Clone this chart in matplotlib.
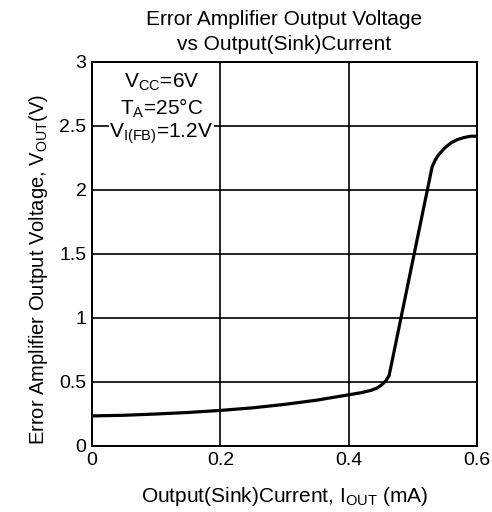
import matplotlib
matplotlib.use("Agg")
import matplotlib.pyplot as plt

plt.rcParams['font.family'] = ['Liberation Sans', 'DejaVu Sans']
plt.rcParams['mathtext.fontset'] = 'custom'
plt.rcParams['mathtext.rm'] = 'Liberation Sans'

# sink current (mA) vs error amp output voltage (V)
current_ma = [0, 0.05, 0.1, 0.15, 0.2, 0.25, 0.3, 0.35, 0.4, 0.42, 0.435,
              0.445, 0.452, 0.458, 0.463, 0.53, 0.535, 0.54, 0.55, 0.56,
              0.57, 0.58, 0.59, 0.6]
vout = [0.235, 0.24, 0.25, 0.262, 0.278, 0.298, 0.325, 0.358, 0.40, 0.417, 0.435,
        0.455, 0.48, 0.51, 0.55, 2.18, 2.235, 2.275, 2.33, 2.37,
        2.395, 2.41, 2.42, 2.42]

xticks = [0, 0.2, 0.4, 0.6]
xticklabels = ['0', '0.2', '0.4', '0.6']
yticks = [0, 0.5, 1, 1.5, 2, 2.5, 3]
yticklabels = ['0', '0.5', '1', '1.5', '2', '2.5', '3']

fig = plt.figure(figsize=(4.92, 5.12), dpi=100)
ax = fig.add_axes([92 / 492, 66 / 512, 385 / 492, 384 / 512])

ax.plot(current_ma, vout, color='black', lw=2.3, solid_capstyle='butt',
        solid_joinstyle='round', zorder=3, clip_on=False)

ax.set_xlim(0, 0.6)
ax.set_ylim(0, 3)
ax.set_xticks(xticks)
ax.set_xticklabels(xticklabels)
ax.set_yticks(yticks)
ax.set_yticklabels(yticklabels)
ax.tick_params(length=0, labelsize=14, pad=4, colors='black')
ax.grid(True, color='black', lw=1.2)
for s in ax.spines.values():
    s.set_linewidth(1.4)

ax.set_title('Error Amplifier Output Voltage\nvs Output(Sink)Current',
             fontsize=15, linespacing=1.35, pad=9)
ax.set_xlabel(r'Output(Sink)Current, I$_{\mathregular{OUT}}$ (mA)',
              fontsize=15, labelpad=12)
ax.set_ylabel(r'Error Amplifier Output Voltage, V$_{\mathregular{OUT}}$(V)',
              fontsize=14.5, labelpad=4)
ax.yaxis.set_label_coords(-0.11, 0.46)

box = dict(facecolor='white', edgecolor='none', pad=0.3)
ax.text(0.108, 2.84, r'V$_{\mathregular{CC}}$=6V', ha='center', va='center',
        fontsize=15, bbox=box, zorder=4)
ax.text(0.108, 2.64, r'T$_{\mathregular{A}}$=25°C', ha='center', va='center',
        fontsize=15, bbox=box, zorder=4)
ax.text(0.108, 2.44, r'V$_{\mathregular{I(FB)}}$=1.2V', ha='center', va='center',
        fontsize=15, bbox=box, zorder=4)

fig.savefig('out.png', dpi=100)
